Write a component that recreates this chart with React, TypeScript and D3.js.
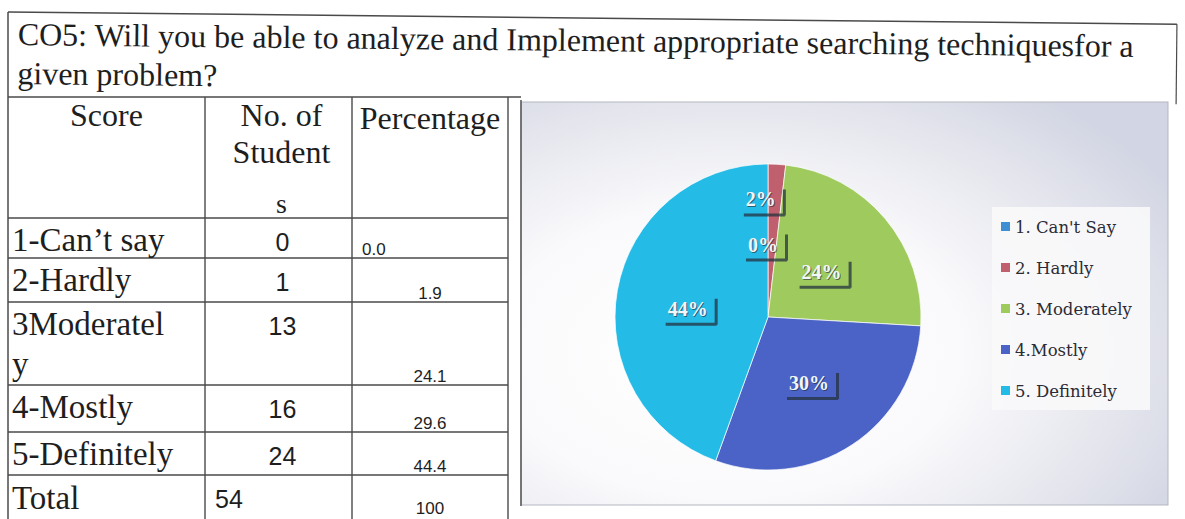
import React from "react";
import * as d3 from "d3";

// question text
const titleLines = [
  "CO5: Will you be able to analyze and Implement appropriate searching techniquesfor a",
  "given problem?",
];

// table
const headerScore = ["Score"];
const headerCount = ["No. of", "Student", "s"];
const headerPct = ["Percentage"];
const scoreLines = [["1-Can’t say"], ["2-Hardly"], ["3Moderatel", "y"], ["4-Mostly"], ["5-Definitely"]];
const counts = [0, 1, 13, 16, 24];
const percentages = ["0.0", "1.9", "24.1", "29.6", "44.4"];
const totalLabel = "Total";
const totalCount = "54";
const totalPct = "100";

// pie legend
const legendLabels = ["1. Can't Say", "2. Hardly", "3. Moderately", "4.Mostly", "5. Definitely"];
const sliceColors = ["#3d8ed2", "#c0606e", "#9fcb5e", "#4b63c6", "#24bbe6"];

const W = 1185;
const H = 519;
const serif = "'Liberation Serif', 'Times New Roman', serif";
const sans = "'Liberation Sans', Arial, sans-serif";
const ink = "#1e1e1e";
const rule = "#4a4a4a";

// table geometry
const colX = [8, 205, 352, 508];
const rowY = [97, 218, 258, 302, 385, 432, 475, 519];

// pie geometry
const cx = 768;
const cy = 317;
const radius = 153;
const labelRadius = [0.5, 0.77, 0.5, 0.5, 0.5];
const labelNudge = [[-5, 4], [-14, 0], [-5, 4], [-1, 2], [-5, 5]];

export default function App() {
  const pie = d3.pie<number>().sort(null).value((d) => d);
  const arcs = pie(counts);
  const arc = d3.arc<d3.PieArcDatum<number>>().innerRadius(0).outerRadius(radius);
  const total = d3.sum(counts);
  const fmt = d3.format(".0%");

  const legendY = d3.scalePoint<string>().domain(legendLabels).range([227, 391]);
  const colMid = (i: number) => (colX[i] + colX[i + 1]) / 2;

  const rows = scoreLines.map((lines, i) => ({
    lines,
    count: String(counts[i]),
    pct: percentages[i],
    top: rowY[i + 1],
    bottom: rowY[i + 2],
  }));

  return (
    <div style={{ position: "absolute", left: 0, top: 0 }}>
      <svg width={W} height={H} style={{ display: "block", background: "#fff" }}>
        <defs>
          <radialGradient id="plotBg" cx="32%" cy="62%" r="80%">
            <stop offset="0%" stopColor="#ffffff" />
            <stop offset="45%" stopColor="#fafafc" />
            <stop offset="75%" stopColor="#e6e7ee" />
            <stop offset="100%" stopColor="#d2d5e3" />
          </radialGradient>
        </defs>

        {/* title block, slightly skewed like the scan */}
        <g transform="rotate(0.6, 8, 12)">
          <line x1={8} y1={12} x2={1177} y2={12} stroke={rule} strokeWidth={1.5} />
          <line x1={1177} y1={12} x2={1177} y2={92} stroke={rule} strokeWidth={1.2} />
          {titleLines.map((t, i) => (
            <text key={i} x={18} y={45 + i * 39} fontFamily={serif} fontSize={32} fill={ink}>
              {t}
            </text>
          ))}
        </g>
        <line x1={8} y1={97} x2={521} y2={97} stroke={rule} strokeWidth={1.5} />

        {/* chart area */}
        <rect x={521} y={102} width={647} height={403} fill="url(#plotBg)" stroke="#b5b7c0" strokeWidth={1} />
        <line x1={521} y1={100} x2={521} y2={506} stroke="#555" strokeWidth={1.5} />

        {/* table grid */}
        <line x1={colX[0]} y1={12} x2={colX[0]} y2={H} stroke={rule} strokeWidth={1.5} />
        {colX.slice(1).map((x) => (
          <line key={x} x1={x} y1={rowY[0]} x2={x} y2={H} stroke={rule} strokeWidth={1.4} />
        ))}
        {rowY.slice(1, -1).map((y) => (
          <line key={y} x1={colX[0]} y1={y} x2={colX[3]} y2={y} stroke={rule} strokeWidth={1.4} />
        ))}

        {/* header */}
        <g fontFamily={serif} fontSize={32} fill={ink} textAnchor="middle">
          {headerScore.map((t, i) => (
            <text key={t} x={colMid(0)} y={126 + i * 37}>{t}</text>
          ))}
          {headerCount.map((t, i) => (
            <text key={t} x={colMid(1) + 3} y={126 + i * 37 + (i === 2 ? 13 : 0)} fontSize={i === 2 ? 28 : 32}>
              {t}
            </text>
          ))}
          {headerPct.map((t) => (
            <text key={t} x={colMid(2)} y={129}>{t}</text>
          ))}
        </g>

        {/* body rows */}
        {rows.map((r, i) => (
          <g key={i}>
            {r.lines.map((l, j) => (
              <text key={j} x={12} y={r.top + 33 + j * 40} fontFamily={serif} fontSize={33} fill={ink}>
                {l}
              </text>
            ))}
            <text x={colMid(1) + 4} y={r.top + 33} fontFamily={sans} fontSize={25} fill={ink} textAnchor="middle">
              {r.count}
            </text>
            <text
              x={i === 0 ? colX[2] + 10 : colMid(2)}
              y={r.bottom - 3}
              fontFamily={sans}
              fontSize={17}
              fill={ink}
              textAnchor={i === 0 ? "start" : "middle"}
            >
              {r.pct}
            </text>
          </g>
        ))}
        <text x={12} y={rowY[6] + 34} fontFamily={serif} fontSize={33} fill={ink}>{totalLabel}</text>
        <text x={colX[1] + 10} y={rowY[6] + 33} fontFamily={sans} fontSize={25} fill={ink}>{totalCount}</text>
        <text x={colMid(2)} y={H - 5} fontFamily={sans} fontSize={17} fill={ink} textAnchor="middle">{totalPct}</text>

        {/* pie */}
        <g transform={`translate(${cx},${cy})`}>
          {arcs.map((a, i) => (
            <path key={i} d={arc(a) ?? ""} fill={sliceColors[i]} stroke="#ffffff" strokeOpacity={0.7} strokeWidth={1} />
          ))}
          {arcs.map((a, i) => {
            const mid = (a.startAngle + a.endAngle) / 2;
            const rr = radius * labelRadius[i];
            const x = Math.sin(mid) * rr + labelNudge[i][0];
            const y = -Math.cos(mid) * rr + labelNudge[i][1];
            const label = fmt(a.data / total);
            const tw = (label.length - 1) * 10 + 20;
            const bx = x - tw / 2 - 7;
            const by = y - 15;
            const bw = tw + 14;
            const bh = 29;
            return (
              <g key={`l${i}`}>
                <path
                  d={`M${bx + 5},${by + bh + 1.5}H${bx + bw + 2}M${bx + bw + 1.5},${by + 5}V${by + bh + 2}`}
                  stroke="#24313f"
                  strokeOpacity={0.75}
                  strokeWidth={3}
                  fill="none"
                />
                <text
                  x={x + 1}
                  y={y + 1}
                  fontFamily={serif}
                  fontWeight="bold"
                  fontSize={20}
                  fill="#1d2b3a"
                  fillOpacity={0.6}
                  textAnchor="middle"
                  dominantBaseline="central"
                >
                  {label}
                </text>
                <text
                  x={x}
                  y={y}
                  fontFamily={serif}
                  fontWeight="bold"
                  fontSize={20}
                  fill="#f3f6f8"
                  textAnchor="middle"
                  dominantBaseline="central"
                >
                  {label}
                </text>
              </g>
            );
          })}
        </g>

        {/* legend */}
        <rect x={992} y={207} width={158} height={203} fill="#f8f8fa" fillOpacity={0.92} />
        {legendLabels.map((l, i) => (
          <g key={l} transform={`translate(1001,${legendY(l)})`}>
            <rect x={0} y={-5} width={9} height={9} fill={sliceColors[i]} />
            <text x={14} y={0} fontFamily="'DejaVu Serif', serif" fontSize={16.5} fill="#2b2b36" dominantBaseline="central">
              {l}
            </text>
          </g>
        ))}
      </svg>
    </div>
  );
}
